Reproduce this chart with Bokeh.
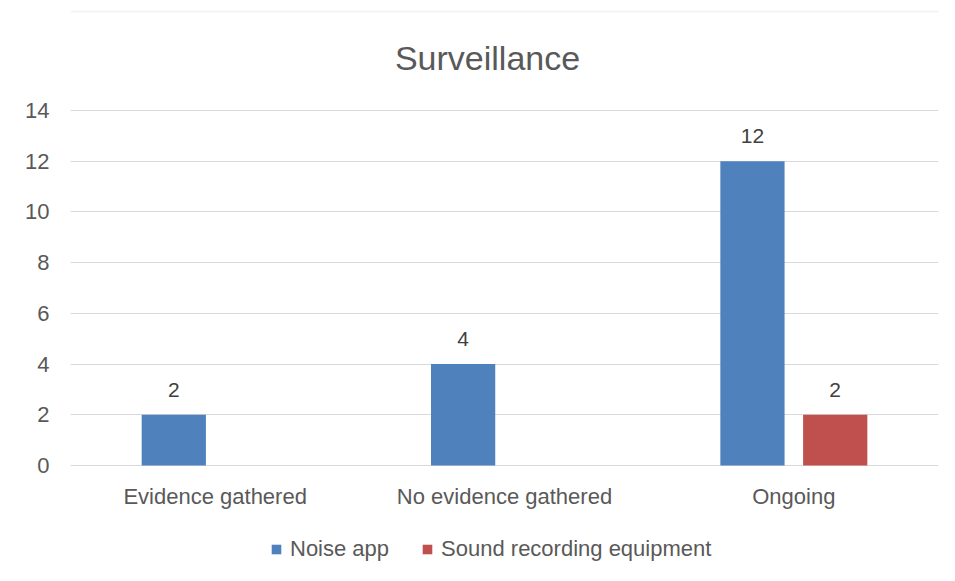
from bokeh.plotting import figure
from bokeh.models import (ColumnDataSource, FactorRange, Range1d, FixedTicker,
                          Legend, LegendItem, BoxAnnotation)
from bokeh.core.properties import value
from bokeh.transform import dodge
from bokeh.embed import file_html
from bokeh.resources import INLINE

categories = ["Evidence gathered", "No evidence gathered", "Ongoing"]
noise_app = [2, 4, 12]
sound_equipment = [0, 0, 2]
series_names = ["Noise app", "Sound recording equipment"]
y_ticks = [0, 2, 4, 6, 8, 10, 12, 14]
title_text = "Surveillance"

FONT = "Liberation Sans"
BLUE = "#4f81bd"
RED = "#c0504d"
GRID = "#d9d9d9"
TXT = "#595959"

W, H = 947, 573
FRAME_L, FRAME_R = 70, 938
PLOT_TOP, PLOT_BOTTOM = 110, 465          # pixel rows of the 14 and 0 gridlines
YMAX = y_ticks[-1]
ppu = (PLOT_BOTTOM - PLOT_TOP) / YMAX       # pixels per y unit
ppx = (FRAME_R - FRAME_L) / len(categories)  # pixels per category
y_lo = -(H - PLOT_BOTTOM) / ppu
y_hi = YMAX + PLOT_TOP / ppu

p = figure(width=W, height=H, x_range=FactorRange(*categories),
           y_range=Range1d(y_lo, y_hi), output_backend="svg",
           toolbar_location=None,
           min_border_left=FRAME_L, min_border_right=W - FRAME_R,
           min_border_top=0, min_border_bottom=0)
p.x_range.range_padding = 0
p.outline_line_color = None
p.title.visible = False
p.xaxis.visible = False

# light chart-area border (top and left edges)
border = BoxAnnotation(left=-63 / ppx, right=len(categories) + 2,
                       top=y_hi - 11 / ppu, bottom=y_lo - 5,
                       fill_alpha=0, line_color=GRID, line_width=2)
p.add_layout(border)

src = ColumnDataSource(dict(cat=categories, noise=noise_app, sound=sound_equipment))
r1 = p.vbar(x=dodge("cat", -0.143, range=p.x_range), top="noise", width=0.222,
            source=src, fill_color=BLUE, line_color=None)
r2 = p.vbar(x=dodge("cat", 0.143, range=p.x_range), top="sound", width=0.222,
            source=src, fill_color=RED, line_color=None)

# data labels (non-zero values only)
for vals, off in ((noise_app, -0.143), (sound_equipment, 0.143)):
    cats = [c for c, v in zip(categories, vals) if v != 0]
    vs = [v for v in vals if v != 0]
    lsrc = ColumnDataSource(dict(cat=cats, v=vs, t=[str(v) for v in vs]))
    p.text(x=dodge("cat", off, range=p.x_range), y="v", text="t", source=lsrc,
           text_font=value(FONT), text_font_size="21px", text_color="#404040",
           text_align="center", text_baseline="middle", y_offset=-25)

# category labels under the baseline
csrc = ColumnDataSource(dict(cat=categories, y=[0] * len(categories)))
p.text(x="cat", y="y", text="cat", source=csrc, text_font=value(FONT),
       text_font_size="22px", text_color=TXT, text_align="center",
       text_baseline="middle", y_offset=31)

# chart title
tsrc = ColumnDataSource(dict(x=[len(categories) / 2], y=[YMAX], t=[title_text]))
p.text(x="x", y="y", text="t", source=tsrc, text_font=value(FONT),
       text_font_size="34px", text_color=TXT, text_align="center",
       text_baseline="middle", x_offset=-17, y_offset=-53)

p.yaxis.ticker = FixedTicker(ticks=y_ticks)
p.yaxis.axis_line_color = None
p.yaxis.major_tick_line_color = None
p.yaxis.minor_tick_line_color = None
p.yaxis.major_tick_out = 0
p.yaxis.major_tick_in = 0
p.yaxis.major_label_text_font = FONT
p.yaxis.major_label_text_font_size = "22px"
p.yaxis.major_label_text_color = TXT
p.yaxis.major_label_standoff = 21

p.xgrid.grid_line_color = None
p.ygrid.grid_line_color = GRID
p.ygrid.grid_line_width = 1

legend = Legend(items=[LegendItem(label=series_names[0], renderers=[r1]),
                       LegendItem(label=series_names[1], renderers=[r2])],
                orientation="horizontal", location=(200, 11),
                glyph_width=12, glyph_height=12, label_standoff=8, spacing=32,
                padding=0, margin=0, border_line_color=None,
                background_fill_alpha=0,
                label_text_font=FONT, label_text_font_size="22px",
                label_text_color=TXT)
p.add_layout(legend, "center")

open("out.html", "w").write(file_html(p, INLINE))
